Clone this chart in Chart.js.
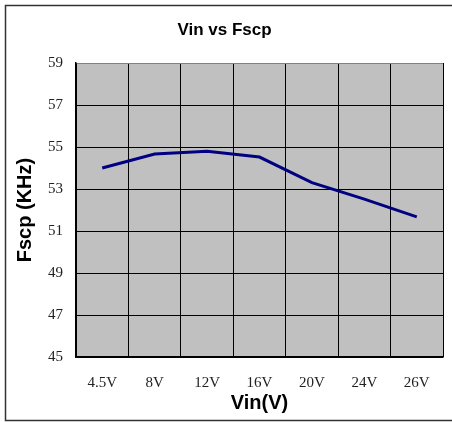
<!DOCTYPE html>
<html>
<head>
<meta charset="utf-8">
<script src="https://cdn.jsdelivr.net/npm/chart.js@4"></script>
<style>
  html, body { margin: 0; padding: 0; background: #fff; }
  #wrap { width: 452px; height: 422px; }
</style>
</head>
<body>
<div id="wrap"><canvas id="fscpChart" width="452" height="422"></canvas></div>
<script>
const vinLabels = ["4.5V", "8V", "12V", "16V", "20V", "24V", "26V"];
const fscpValues = [54.0, 54.67, 54.8, 54.52, 53.3, 52.52, 51.67];
const yMin = 45, yMax = 59, yStep = 2;

// plot background + outer frame
const frame = {
    id: "frame",
    beforeDraw(chart){
        const {ctx, chartArea:a} = chart;
        ctx.save();
        ctx.fillStyle = "#c0c0c0";
        ctx.fillRect(a.left, a.top, a.right - a.left, a.bottom - a.top);
        ctx.restore();
    },
    afterDraw(chart){
        const ctx = chart.ctx;
        ctx.save();
        ctx.strokeStyle = "#333";
        ctx.lineWidth = 1.5;
        ctx.strokeRect(5.5, 5.5, 460, 415);
        ctx.restore();
    }
};

new Chart(document.getElementById("fscpChart"), {
    type: "line",
    data: {
        labels: vinLabels,
        datasets: [{
            label: "Fscp",
            data: fscpValues,
            borderColor: "#000080",
            borderWidth: 3,
            pointRadius: 0,
            tension: 0
        }]
    },
    options: {
        responsive: false,
        animation: false,
        layout: { padding: { left: 6, right: 9, top: 0, bottom: 0 } },
        plugins: {
            legend: { display: false },
            tooltip: { enabled: false },
            title: {
                display: true,
                text: "Vin vs Fscp",
                color: "#000",
                font: { family: "Liberation Sans", size: 17, weight: "bold" },
                padding: { top: 20, bottom: 22.6 }
            }
        },
        scales: {
            x: {
                offset: true,
                grid: {
                    offset: true,
                    drawTicks: false,
                    color: c => c.index === vinLabels.length ? "#808080" : "#000",
                    lineWidth: 1
                },
                border: { color: "#000", width: 1.5 },
                ticks: {
                    color: "#222",
                    padding: 17,
                    font: { family: "Liberation Serif", size: 15 }
                },
                title: {
                    display: true,
                    text: "Vin(V)",
                    color: "#000",
                    font: { family: "Liberation Sans", size: 20, weight: "bold" },
                    padding: { top: 0, bottom: 7 }
                },
                afterFit(s){ s.height = 65; }
            },
            y: {
                min: yMin,
                max: yMax,
                grid: {
                    drawTicks: false,
                    color: c => c.tick && c.tick.value === yMax ? "#808080" : "#000",
                    lineWidth: 1
                },
                border: { color: "#000", width: 1.5 },
                ticks: {
                    stepSize: yStep,
                    color: "#222",
                    padding: 13,
                    font: { family: "Liberation Serif", size: 15 }
                },
                title: {
                    display: true,
                    text: "Fscp (KHz)",
                    color: "#000",
                    font: { family: "Liberation Sans", size: 20, weight: "bold" },
                    padding: { top: 7, bottom: 0 }
                },
                afterFit(s){ s.width = 70; }
            }
        }
    },
    plugins: [frame]
});
</script>
</body>
</html>
